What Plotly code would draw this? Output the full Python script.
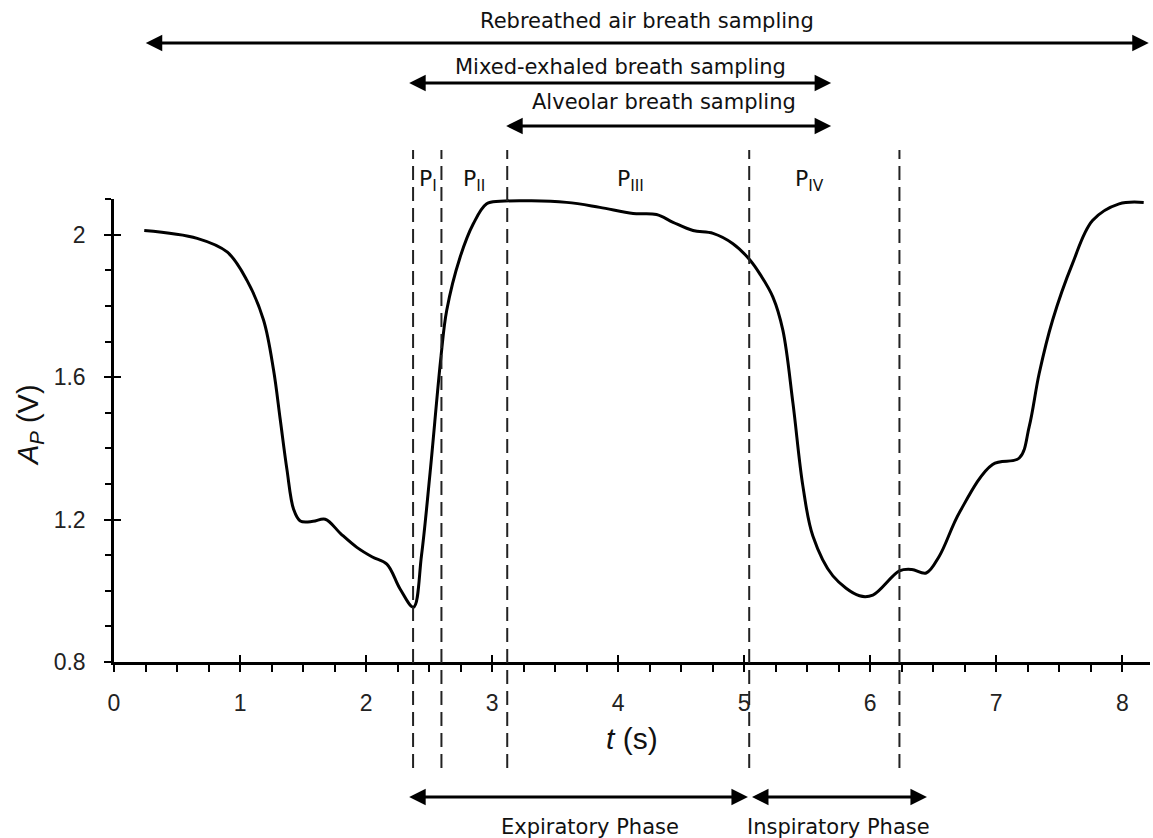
import plotly.graph_objects as go

# ---- data ----
t_s = [0.24, 0.66, 0.90, 1.055, 1.187, 1.266, 1.319, 1.372, 1.425, 1.478, 1.58, 1.676,
       1.80, 1.927, 2.05, 2.165, 2.27, 2.376, 2.44, 2.508, 2.595, 2.64, 2.746, 2.851,
       2.957, 3.063, 3.59, 3.855, 4.119, 4.304, 4.436, 4.594, 4.753, 4.911, 5.044,
       5.123, 5.228, 5.307, 5.387, 5.466, 5.545, 5.704, 5.915, 6.021, 6.232, 6.33,
       6.444, 6.549, 6.708, 6.971, 7.183, 7.262, 7.341, 7.447, 7.605, 7.764, 7.975, 8.17]
ap_v = [2.012, 1.990, 1.951, 1.872, 1.760, 1.620, 1.481, 1.341, 1.229, 1.196, 1.195, 1.201,
        1.160, 1.122, 1.095, 1.075, 1.005, 0.954, 1.100, 1.332, 1.660, 1.788, 1.937, 2.031,
        2.087, 2.094, 2.091, 2.077, 2.060, 2.057, 2.035, 2.012, 2.004, 1.975, 1.930,
        1.891, 1.825, 1.732, 1.527, 1.294, 1.154, 1.042, 0.986, 0.988, 1.056, 1.060,
        1.050, 1.098, 1.220, 1.355, 1.373, 1.462, 1.611, 1.760, 1.919, 2.040, 2.087, 2.091]

phase_bounds = [2.373, 2.598, 3.12, 5.04, 6.232]
phase_labels = ["P<sub>I</sub>", "P<sub>II</sub>", "P<sub>III</sub>", "P<sub>IV</sub>"]
phase_label_t = [2.49, 2.857, 4.095, 5.52]

x_ticks = [0, 1, 2, 3, 4, 5, 6, 7, 8]
y_ticks = [0.8, 1.2, 1.6, 2.0]
y_ticktext = ["0.8", "1.2", "1.6", "2"]

# sampling ranges (start t, end t, label, label t)
top_ranges = [
    (0.24, 8.21, "Rebreathed air breath sampling", 4.23),
    (2.33, 5.69, "Mixed-exhaled breath sampling", 4.02),
    (3.10, 5.69, "Alveolar breath sampling", 4.36),
]
bottom_ranges = [
    (2.33, 5.03, "Expiratory Phase", 3.78),
    (5.05, 6.45, "Inspiratory Phase", 5.75),
]

# ---- layout constants (pixels -> paper) ----
W, H = 1153, 838
ML, MR, MT, MB = 114, 3, 199, 176
plot_h = H - MT - MB


def py2paper(py):
    return (H - MB - py) / plot_h


ANN_FONT = dict(family="DejaVu Sans", size=21, color="#111")
TICK_FONT = dict(family="Liberation Sans", size=23, color="#222")

fig = go.Figure()
fig.add_trace(go.Scatter(
    x=t_s, y=ap_v, mode="lines",
    line=dict(color="black", width=3, shape="spline", smoothing=1.0),
    showlegend=False, hoverinfo="skip",
))
# invisible trace on overlay axes (used for the inner half of major ticks)
fig.add_trace(go.Scatter(x=[None], y=[None], xaxis="x2", yaxis="y2", showlegend=False))

x_range = [0, 8.22]
y_range = [0.8, 2.1005]

fig.update_layout(
    width=W, height=H,
    margin=dict(l=ML, r=MR, t=MT, b=MB, autoexpand=False),
    paper_bgcolor="white", plot_bgcolor="white",
    xaxis=dict(
        range=x_range, tickvals=x_ticks, ticks="outside", ticklen=7, tickwidth=2,
        tickcolor="black", showline=True, linecolor="black", linewidth=2.5,
        showgrid=False, zeroline=False, tickfont=TICK_FONT, ticklabelstandoff=12,
        minor=dict(dtick=0.25, tick0=0, ticks="outside", ticklen=7, tickwidth=2,
                   tickcolor="black", showgrid=False),
    ),
    yaxis=dict(
        range=y_range, tickvals=y_ticks, ticktext=y_ticktext, ticks="outside",
        ticklen=7, tickwidth=2, tickcolor="black", showline=True, linecolor="black",
        linewidth=2.5, showgrid=False, zeroline=False, tickfont=TICK_FONT,
        ticklabelstandoff=14,
        minor=dict(dtick=0.1, tick0=0.8, ticks="outside", ticklen=6, tickwidth=2,
                   tickcolor="black", showgrid=False),
    ),
    xaxis2=dict(overlaying="x", anchor="y", range=x_range, tickvals=x_ticks,
                ticks="inside", ticklen=7, tickwidth=2, tickcolor="black",
                showticklabels=False, showline=False, showgrid=False, zeroline=False),
    yaxis2=dict(overlaying="y", anchor="x", range=y_range, tickvals=y_ticks,
                ticks="inside", ticklen=7, tickwidth=2, tickcolor="black",
                showticklabels=False, showline=False, showgrid=False, zeroline=False),
)

# vertical dashed phase boundaries
for tb in phase_bounds:
    fig.add_shape(type="line", xref="x", yref="paper", x0=tb, x1=tb,
                  y0=py2paper(768), y1=py2paper(150),
                  line=dict(color="#222", width=2, dash="14px,7px"))

# phase labels
for lab, tl in zip(phase_labels, phase_label_t):
    fig.add_annotation(x=tl, y=py2paper(180), xref="x", yref="paper", text=lab,
                       showarrow=False, font=dict(family="DejaVu Sans", size=22, color="#111"),
                       xanchor="center", yanchor="middle")

# double-headed arrows with labels
arrow_py_top = [43, 83, 126]
text_py_top = [21, 67, 102]
for (t0, t1, lab, tl), apy, tpy in zip(top_ranges, arrow_py_top, text_py_top):
    fig.add_annotation(x=t1, y=py2paper(apy), xref="x", yref="paper",
                       ax=t0, ay=0, axref="x", ayref="pixel", text="",
                       showarrow=True, arrowside="end+start", arrowhead=2,
                       arrowsize=1.1, arrowwidth=3, arrowcolor="black")
    fig.add_annotation(x=tl, y=py2paper(tpy), xref="x", yref="paper", text=lab,
                       showarrow=False, font=ANN_FONT, xanchor="center", yanchor="middle")

for (t0, t1, lab, tl) in bottom_ranges:
    fig.add_annotation(x=t1, y=py2paper(797), xref="x", yref="paper",
                       ax=t0, ay=0, axref="x", ayref="pixel", text="",
                       showarrow=True, arrowside="end+start", arrowhead=2,
                       arrowsize=1.1, arrowwidth=3, arrowcolor="black")
    fig.add_annotation(x=tl, y=py2paper(827), xref="x", yref="paper", text=lab,
                       showarrow=False, font=ANN_FONT, xanchor="center", yanchor="middle")

# axis titles
fig.add_annotation(x=0.5, y=py2paper(738), xref="paper", yref="paper",
                   text="<i>t</i> (s)", showarrow=False,
                   font=dict(family="Liberation Sans", size=30, color="#111"),
                   xanchor="center", yanchor="middle")
fig.add_annotation(x=(30 - ML) / (W - ML - MR), y=py2paper(425), xref="paper", yref="paper",
                   text="<i>A</i><sub><i>P</i></sub> (V)", showarrow=False, textangle=-90,
                   font=dict(family="Liberation Sans", size=29, color="#111"),
                   xanchor="center", yanchor="middle")

fig.write_html("out.html")
